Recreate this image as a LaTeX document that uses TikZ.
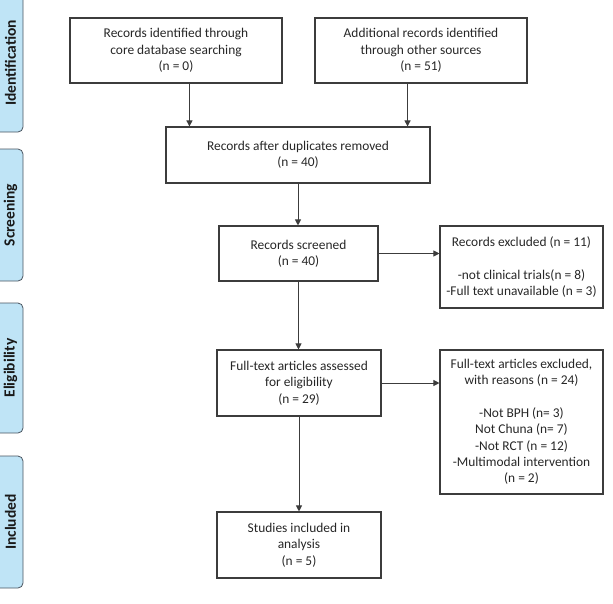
\documentclass[tikz,border=0pt]{standalone}
\usepackage{fontspec}
\setmainfont{Carlito}
\usetikzlibrary{arrows.meta}
\definecolor{boxline}{HTML}{3C3C3C}
\definecolor{tabfill}{HTML}{BFE4F6}
\definecolor{tabline}{HTML}{4A5560}
\begin{document}
\begin{tikzpicture}[x=1pt,y=-1pt,>={Triangle[length=6pt,width=6pt]},line width=1pt,
	flowbox/.style={draw=boxline,line width=1.1pt,inner sep=0pt,align=center,font=\fontsize{13.4}{16.3}\selectfont,text=black!85},
	tab/.style={fill=tabfill,draw=tabline,rounded corners=5pt,line width=0.8pt}]
	\useasboundingbox (0,0) rectangle (613,603);
	% phase tabs on the left
	\foreach \top/\bot/\mid/\name in {-12/132/63/Identification,149/281/215/Screening,303/433/368/Eligibility,456/588/522/Included}
	{\draw[tab] (-10,\top) rectangle (23,\bot);
		\node[rotate=90,font=\bfseries\fontsize{15.5}{18}\selectfont,text=black!90] (tab\name) at (10.5,\mid) {\name};}
	% boxes
	\node[flowbox,minimum width=212pt,minimum height=65pt] (core) at (176,50.5) {Records identified through\\core database searching\\(n = 0)};
	\node[flowbox,minimum width=212pt,minimum height=65pt] (other) at (421,50.5) {Additional records identified\\through other sources\\(n = 51)};
	\node[flowbox,minimum width=264pt,minimum height=56pt] (dup) at (298,155) {Records after duplicates removed\\(n = 40)};
	\node[flowbox,minimum width=159pt,minimum height=55pt] (scr) at (298.5,253.5) {Records screened\\(n = 40)};
	\node[flowbox,minimum width=163pt,minimum height=82pt] (excl) at (521.5,267) {Records excluded (n = 11)\\[16.3pt]-not clinical trials(n = 8)\\-Full text unavailable (n = 3)};
	\node[flowbox,minimum width=164pt,minimum height=66pt] (full) at (299,383) {Full-text articles assessed\\for eligibility\\(n = 29)};
	\node[flowbox,minimum width=163pt,minimum height=144pt] (fexcl) at (521.5,422) {Full-text articles excluded,\\with reasons (n = 24)\\[16.3pt]-Not BPH (n= 3)\\Not Chuna (n= 7)\\-Not RCT (n = 12)\\-Multimodal intervention\\(n = 2)};
	\node[flowbox,minimum width=164pt,minimum height=66pt] (stud) at (299,545) {Studies included in\\analysis\\(n = 5)};
	% arrows
	\draw[->,boxline] ([xshift=24pt]dup.north west |- core.south) -- ([xshift=24pt]dup.north west);
	\draw[->,boxline] ([xshift=-23pt]dup.north east |- other.south) -- ([xshift=-23pt]dup.north east);
	\draw[->,boxline] (dup.south) -- (dup.south |- scr.north);
	\draw[->,boxline] (scr.east) -- (scr.east -| excl.west);
	\draw[->,boxline] (scr.south) -- (scr.south |- full.north);
	\draw[->,boxline] (full.east) -- (full.east -| fexcl.west);
	\draw[->,boxline] (full.south) -- (stud.north);
\end{tikzpicture}
\end{document}
